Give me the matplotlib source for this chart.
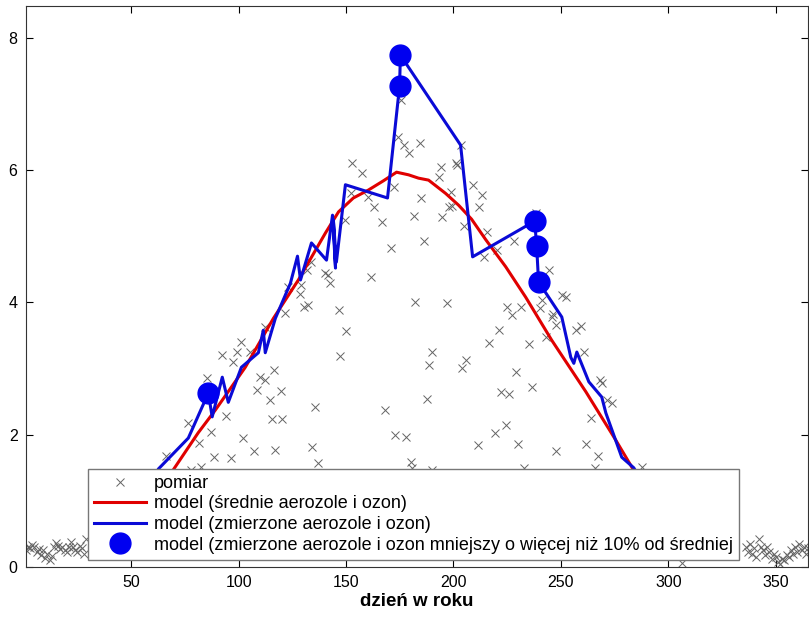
import matplotlib
matplotlib.use("Agg")
import matplotlib.pyplot as plt

plt.rcParams['font.family'] = ['Liberation Sans', 'DejaVu Sans']

# measurements (pomiar) - day of year and value
meas_day = [1, 2, 3, 4, 5, 6, 7, 8, 9, 10, 11, 12, 13, 14, 15, 16, 17, 18, 19, 20,
            21, 22, 23, 24, 25, 26, 27, 28, 29,
            66.3, 76.6, 78.0, 81.7, 82.6, 85.4, 87.3, 88.7, 92.4, 94.3, 96.6, 97.5,
            99.4, 101.3, 102.2, 105.5, 107.3, 108.7, 110.1, 112.4, 112.4, 114.8,
            115.7, 116.6, 117.1, 119.9, 120.4, 121.8, 123.2, 128.8, 129.2, 130.6,
            131.6, 132.5, 133.9, 134.3, 135.7, 137.1, 140.4, 141.8, 142.7, 146.5,
            147.4, 149.7, 150.2, 152.1, 153.0, 157.2, 160.4, 161.8, 163.2, 166.5,
            167.9, 170.7, 172.1, 172.6, 174.0, 175.4, 176.8, 177.7, 179.1, 180.0,
            180.5, 181.4, 182.3, 184.2, 184.7, 186.5, 187.9, 188.4, 189.8, 189.8,
            193.1, 194.0, 194.5, 196.8, 197.7, 198.7, 199.1, 201.0, 201.5, 203.3,
            203.8, 204.7, 205.6, 208.9, 211.2, 211.7, 213.1, 214.0, 215.4, 216.4,
            219.2, 220.1, 221.0, 222.0, 224.3, 224.8, 225.7, 227.1, 228.0, 228.9,
            229.9, 231.3, 232.7, 235.0, 236.4, 238.3, 240.1, 241.1, 242.9, 244.3,
            245.7, 246.2, 247.6, 247.6, 250.4, 252.2, 256.9, 259.2, 260.6, 261.6,
            263.9, 265.8, 267.2, 268.1, 269.0, 271.4, 273.7, 287.7, 306.3,
            336, 337, 338, 339, 340, 341, 342, 343, 344, 345, 346, 347, 348, 349, 350,
            351, 352, 353, 354, 355, 356, 357, 358, 359, 360, 361, 362, 363, 364, 365]
meas_val = [0.25, 0.30, 0.28, 0.33, 0.30, 0.22, 0.27, 0.18, 0.25, 0.14, 0.20, 0.10,
            0.17, 0.30, 0.36, 0.32, 0.27, 0.30, 0.25, 0.22, 0.30, 0.38, 0.30, 0.25,
            0.22, 0.32, 0.28, 0.20, 0.42,
            1.68, 2.18, 1.47, 1.87, 1.51, 2.86, 2.04, 1.66, 3.21, 2.28, 1.65, 3.10,
            3.25, 3.40, 1.95, 3.25, 1.75, 2.68, 2.87, 2.83, 3.63, 2.53,
            2.24, 2.98, 1.77, 2.66, 2.24, 3.84, 4.23, 4.13, 4.26, 3.93,
            4.49, 3.96, 4.61, 1.81, 2.42, 1.57, 4.45, 4.41, 4.29, 3.89,
            3.19, 5.25, 3.57, 5.65, 6.11, 5.96, 5.59, 4.38, 5.44, 5.22,
            2.37, 4.82, 5.75, 2.00, 6.50, 7.06, 6.38, 1.97, 6.26, 1.59,
            1.50, 5.31, 4.01, 6.41, 5.58, 4.93, 2.54, 3.05, 3.25, 1.47,
            5.90, 6.05, 5.29, 3.99, 5.44, 5.67, 5.46, 6.11, 6.08, 6.38,
            3.01, 5.16, 3.13, 5.78, 1.84, 5.44, 5.62, 4.69, 5.07, 3.39,
            2.03, 4.79, 3.58, 2.65, 2.15, 3.93, 2.62, 3.81, 4.93, 2.95,
            1.86, 3.93, 1.50, 3.37, 2.72, 5.35, 3.92, 4.04, 3.48, 4.49,
            3.78, 3.83, 3.66, 1.75, 4.11, 4.08, 3.58, 3.64, 3.25, 1.86,
            2.25, 1.50, 1.68, 2.83, 2.78, 2.53, 2.48, 1.51, 0.06,
            0.30, 0.22, 0.35, 0.20, 0.28, 0.15, 0.42, 0.30, 0.25, 0.18, 0.30, 0.22,
            0.12, 0.20, 0.15, 0.08, 0.05, 0.12, 0.10, 0.18, 0.15, 0.25, 0.20, 0.30,
            0.22, 0.35, 0.25, 0.30, 0.20, 0.28]

# model with mean aerosols and ozone
mean_day = [57.9, 69.6, 81.2, 89.1, 103.1, 116.2, 127.8, 140.4, 146.5, 153.4, 160.4,
            167.4, 173.5, 179.1, 183.7, 188.4, 196.3, 202.4, 208.4, 215.0, 224.3,
            233.6, 245.7, 261.6, 275.5, 283.0, 295.6]
mean_val = [0.71, 1.47, 2.03, 2.37, 3.02, 3.76, 4.34, 5.05, 5.37, 5.58, 5.70,
            5.84, 5.97, 5.93, 5.88, 5.85, 5.65, 5.47, 5.26, 4.95, 4.54,
            4.08, 3.43, 2.65, 1.92, 1.51, 0.86]

# model with measured aerosols and ozone
meas_model_day = [57.9, 62.6, 76.6, 85.9, 87.7, 92.4, 95.2, 101.3, 109.2, 111.5, 112.4,
                  117.1, 124.1, 127.4, 128.8, 133.9, 140.9, 143.7, 145.1, 144.1, 145.5,
                  149.7, 169.3, 174.9, 175.3, 203.3, 208.9, 237.8, 238.7, 239.6, 250.4,
                  254.6, 256.0, 257.4, 263.0, 269.0, 270.9, 278.3, 283.9, 295.6]
meas_model_val = [0.86, 1.48, 1.95, 2.63, 2.27, 2.87, 2.49, 3.02, 3.24, 3.58, 3.24,
                  3.76, 4.29, 4.70, 4.34, 4.90, 4.64, 5.32, 4.52, 5.25, 4.61,
                  5.78, 5.58, 7.27, 7.74, 6.38, 4.69, 5.23, 4.85, 4.31, 3.78,
                  3.17, 3.08, 3.25, 2.80, 2.57, 2.33, 1.66, 1.50, 0.86]

# days where measured-input model is lower by more than 10% from mean
low_day = [85.9, 174.9, 175.3, 237.8, 238.7, 239.6]
low_val = [2.63, 7.27, 7.74, 5.23, 4.85, 4.31]

fig = plt.figure(figsize=(8.09, 6.19), dpi=100)
ax = fig.add_axes([0.032, 0.084, 0.9668, 0.906])

ax.plot(meas_day, meas_val, 'x', color='#646464', markersize=6, markeredgewidth=0.7,
        label='pomiar')
ax.plot(mean_day, mean_val, color='#e00000', linewidth=2.2,
        label='model (średnie aerozole i ozon)')
ax.plot(meas_model_day, meas_model_val, color='#0a0ad6', linewidth=2.2,
        label='model (zmierzone aerozole i ozon)')
ax.plot(low_day, low_val, 'o', color='#0000f0', markersize=15, linestyle='none',
        label='model (zmierzone aerozole i ozon mniejszy o więcej niż 10% od średniej')

ax.set_xlim(1, 365)
ax.set_ylim(0, 8.48)
ax.set_xticks([50, 100, 150, 200, 250, 300, 350])
ax.set_yticks([0, 2, 4, 6, 8])
ax.tick_params(direction='in', top=True, right=True, length=5, labelsize=11.5, pad=6)
for s in ax.spines.values():
    s.set_color('#333333')
    s.set_linewidth(0.8)

ax.set_xlabel('dzień w roku', fontsize=13.5, fontweight='bold', labelpad=2)

leg = ax.legend(loc='lower left', bbox_to_anchor=(0.079, 0.0125), borderaxespad=0,
                fontsize=13.0, handlelength=2.9, fancybox=False, framealpha=1,
                edgecolor='#777777', borderpad=0.35, labelspacing=0.2,
                handletextpad=0.4, markerscale=1.0)
leg.get_frame().set_linewidth(1.0)
leg.set_zorder(10)

fig.savefig('out.png', dpi=100)
